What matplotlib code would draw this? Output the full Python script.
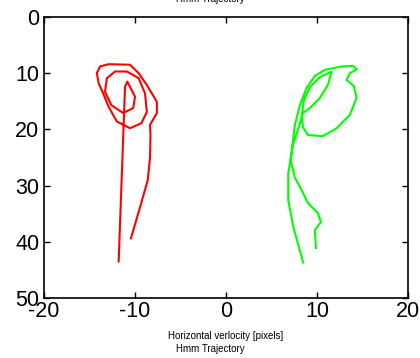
import matplotlib
matplotlib.use("Agg")
import matplotlib.pyplot as plt

plt.rcParams['font.family'] = ['Liberation Sans', 'DejaVu Sans']
plt.rcParams['axes.unicode_minus'] = False

# red trajectory (x = horizontal, y = vertical, y axis reversed)
red_x = [-11.8, -11.1, -10.85, -10.0, -10.2, -11.3, -12.6, -13.3, -13.1, -12.2,
         -10.9, -9.6, -8.9, -8.7, -9.3, -10.55, -12.0, -12.9, -13.5, -14.0,
         -14.2, -13.85, -12.9, -10.55, -9.6, -8.7, -7.6, -7.6, -8.35, -8.3,
         -8.35, -8.6, -9.3, -10.45]
red_y = [43.5, 12.4, 11.5, 14.2, 16.2, 17.1, 15.7, 13.3, 10.9, 9.7,
         9.7, 10.9, 13.6, 16.9, 18.9, 19.8, 18.6, 16.0, 13.6, 11.8,
         10.0, 8.8, 8.4, 8.5, 10.0, 12.1, 15.1, 17.1, 19.2, 21.0,
         25.0, 29.0, 33.0, 39.4]

# green trajectory
green_x = [8.49, 7.40, 6.85, 6.85, 7.11, 7.31, 7.58, 8.13, 8.87, 9.78,
           10.88, 12.75, 13.96, 14.40, 13.63, 13.26, 14.07, 14.36, 13.63, 12.16,
           10.66, 9.01, 8.46, 8.35, 8.57, 9.23, 10.33, 11.62, 11.21, 10.33,
           9.23, 8.46, 7.91, 7.36, 7.11, 7.58, 8.13, 9.01, 10.11, 10.44,
           9.78, 9.89]
green_y = [43.7, 37.3, 32.6, 27.8, 25.4, 22.8, 19.2, 15.7, 12.6, 10.5,
           9.4, 8.8, 8.7, 9.3, 10.0, 11.2, 12.3, 14.4, 17.4, 19.8,
           21.2, 21.0, 19.6, 17.4, 14.8, 12.5, 10.7, 9.7, 12.1, 14.4,
           16.2, 17.1, 20.1, 22.8, 25.4, 28.6, 30.2, 33.1, 34.9, 36.5,
           37.9, 41.1]

xticks = [-20, -10, 0, 10, 20]
yticks = [0, 10, 20, 30, 40, 50]

fig = plt.figure(figsize=(4.2, 3.58), dpi=100)
ax = fig.add_axes([0.105, 0.1676, 0.866, 0.785])

ax.plot(red_x, red_y, color='#ff0000', lw=1.5)
ax.plot(green_x, green_y, color='#00ff00', lw=1.5)

ax.set_xlim(-20, 20)
ax.set_ylim(50, 0)
ax.set_xticks(xticks)
ax.set_yticks(yticks)
ax.tick_params(direction='in', top=True, right=True, length=4, width=1,
               labelsize=15.5, pad=2.5)
ax.tick_params(axis='y', pad=3.5)
for s in ax.spines.values():
    s.set_linewidth(1.2)

ax.set_xlabel('Horizontal verlocity [pixels]', fontsize=7, va='center')
ax.xaxis.set_label_coords(0.5, -0.135)
fig.text(0.5, 1 - 349 / 358, 'Hmm Trajectory', ha='center', va='center', fontsize=7)
fig.text(0.5, 1.004, 'Hmm Trajectory', ha='center', va='center', fontsize=7)

fig.savefig('out.png', dpi=100)
